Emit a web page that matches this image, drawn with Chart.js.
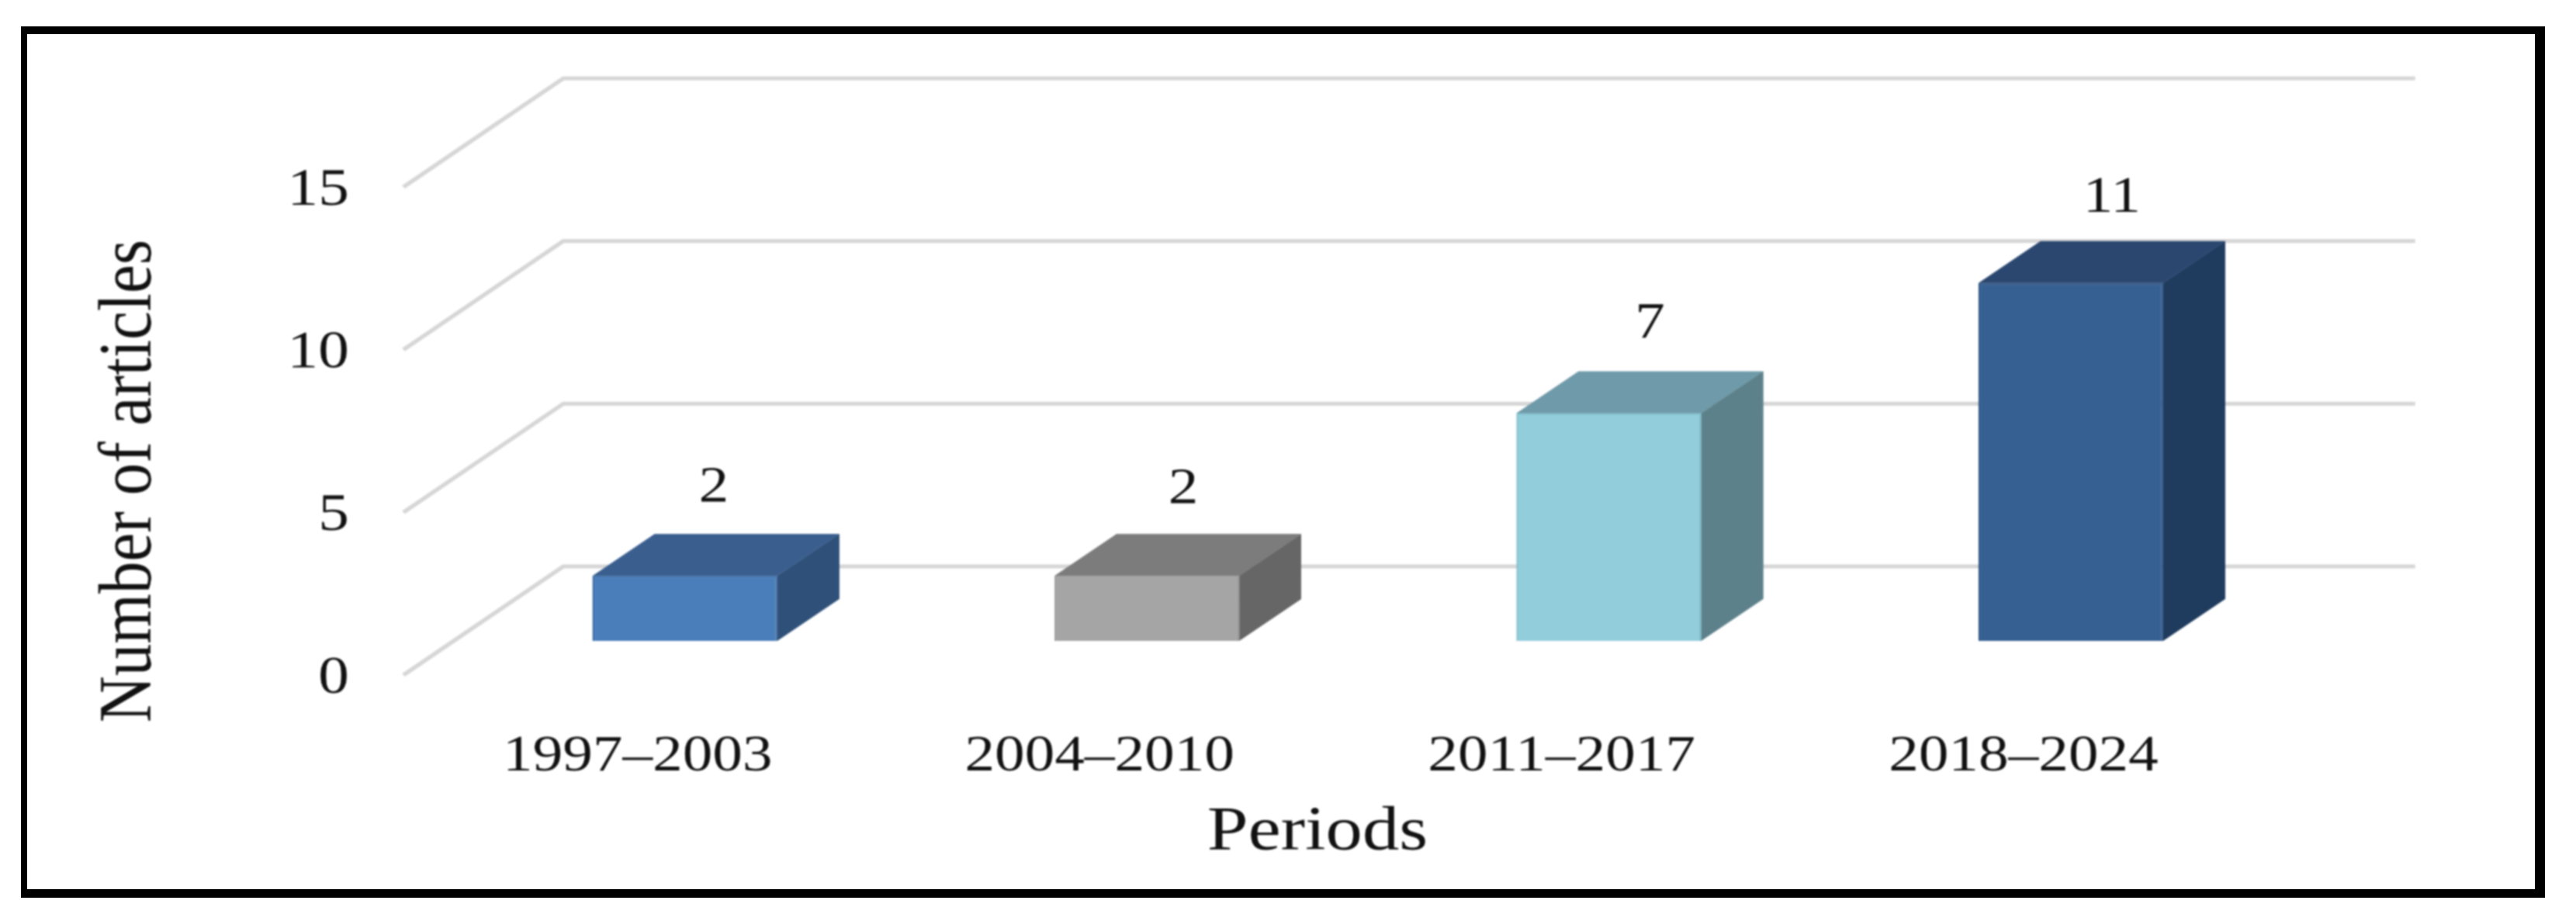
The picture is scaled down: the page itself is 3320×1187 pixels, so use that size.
<!DOCTYPE html>
<html>
<head>
<meta charset="utf-8">
<title>Number of articles by period</title>
<script src="https://cdn.jsdelivr.net/npm/chart.js@4"></script>
<style>
  html, body { margin: 0; background: #fff; overflow: hidden; }
  #stage { position: absolute; left: 0; top: 0; transform: scaleX(1.17); transform-origin: 0 0; filter: blur(1px); }
  #frame {
    position: absolute; left: 27px; top: 34px; width: 3253px; height: 1123px;
    box-sizing: border-box; border: solid #000; border-width: 10px 13px 11px 8px;
  }
</style>
</head>
<body>
<div id="stage"><canvas id="chart" width="2838" height="1187"></canvas></div>
<div id="frame"></div>
<script>
const periods = ["1997–2003", "2004–2010", "2011–2017", "2018–2024"];
const articles = [2, 2, 7, 11];
const yTicks = [0, 5, 10, 15];
const xTitle = "Periods";
const yTitle = "Number of articles";

const frontColors = ["#4a7ebb", "#a5a5a5", "#92cddc", "#376092"];
const topColors = ["#3a5f8f", "#7c7c7c", "#6f9aa9", "#2b4770"];
const sideColors = ["#2f5079", "#666666", "#5d818a", "#1f3b5e"];
const edgeColors = ["#3b6aa3", "#999999", "#86c0cf", "#2c5484"];

// value labels were placed by hand in the original, so each has its own nudge
const labelNudgeX = [37, 47, 53, 53];
const labelNudgeY = [-59, -57, -61, -55];

const sx = 1.17; // the whole picture is stretched sideways
const textColor = "#111111";
const serif = '"Liberation Serif", serif';

// the bars stand part way into the floor, gridlines run to the back wall
const barShift = { x: 65 / sx, y: -44 };
const barDepth = { x: 80 / sx, y: -54 };
const wallDepth = { x: 206 / sx, y: -140 };
const wallRightExtra = 5 / sx;

function face(ctx, points, fill) {
  ctx.beginPath();
  points.forEach((p, i) => (i ? ctx.lineTo(p[0], p[1]) : ctx.moveTo(p[0], p[1])));
  ctx.closePath();
  ctx.fillStyle = fill;
  ctx.fill();
}

const box3d = {
  id: "box3d",
  beforeDatasetsDraw(chart) {
    const { ctx, scales } = chart;
    ctx.save();
    ctx.strokeStyle = "#d6d6d6";
    ctx.lineWidth = 5;
    yTicks.forEach((t) => {
      const y = scales.y.getPixelForValue(t);
      const bx = scales.x.left + wallDepth.x;
      ctx.beginPath();
      ctx.moveTo(scales.x.left, y);
      ctx.lineTo(bx, y + wallDepth.y);
      ctx.lineTo(scales.x.right + wallDepth.x + wallRightExtra, y + wallDepth.y);
      ctx.stroke();
    });
    ctx.translate(barShift.x, barShift.y);
    chart.getDatasetMeta(0).data.forEach((bar, i) => {
      const l = bar.x - bar.width / 2;
      const r = bar.x + bar.width / 2;
      const dx = barDepth.x;
      const dy = barDepth.y;
      face(ctx, [[l, bar.y], [r, bar.y], [r + dx, bar.y + dy], [l + dx, bar.y + dy]], topColors[i]);
      face(ctx, [[r, bar.y], [r + dx, bar.y + dy], [r + dx, bar.base + dy], [r, bar.base]], sideColors[i]);
    });
  },
  afterDatasetsDraw(chart) {
    const { ctx } = chart;
    ctx.restore();
    ctx.save();
    ctx.fillStyle = textColor;
    ctx.textAlign = "center";
    ctx.textBaseline = "middle";
    ctx.font = "66px " + serif;
    chart.getDatasetMeta(0).data.forEach((bar, i) => {
      ctx.fillText(String(articles[i]), bar.x + barShift.x + labelNudgeX[i] / sx, bar.y + barShift.y + barDepth.y + labelNudgeY[i]);
    });
    ctx.font = "81px " + serif;
    ctx.fillText(xTitle, 1698 / sx, 1073);
    ctx.translate(168 / sx, 620);
    ctx.rotate(-Math.PI / 2);
    ctx.font = "83px " + serif;
    ctx.fillText(yTitle, 0, 0);
    ctx.restore();
  },
};

new Chart(document.getElementById("chart"), {
  type: "bar",
  data: {
    labels: periods,
    datasets: [{
      label: "Number of articles",
      data: articles,
      backgroundColor: frontColors,
      borderColor: edgeColors,
      borderWidth: 2,
      barPercentage: 0.4,
      categoryPercentage: 1,
    }],
  },
  options: {
    responsive: false,
    animation: false,
    devicePixelRatio: 2,
    layout: { autoPadding: false, padding: { left: 0, right: 358, top: 241, bottom: 0 } },
    plugins: { legend: { display: false }, tooltip: { enabled: false } },
    scales: {
      x: {
        grid: { display: false },
        border: { display: false },
        ticks: { color: textColor, font: { family: serif, size: 66 }, padding: 58, maxRotation: 0, labelOffset: 3.5 },
        afterFit: (s) => { s.height = 317; },
      },
      y: {
        min: 0,
        max: 15,
        afterBuildTicks: (s) => { s.ticks = yTicks.map((v) => ({ value: v })); },
        grid: { display: false },
        border: { display: false },
        ticks: { color: textColor, font: { family: serif, size: 68 }, padding: 52, labelOffset: 5 },
        afterFit: (s) => { s.width = 520 / sx; },
      },
    },
  },
  plugins: [box3d],
});
</script>
</body>
</html>
